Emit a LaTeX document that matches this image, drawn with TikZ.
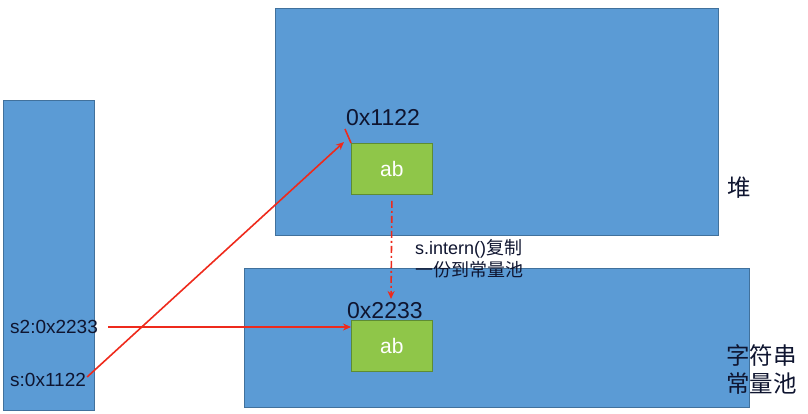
\documentclass[tikz,border=0pt]{standalone}
\usepackage{fontspec}
\setmainfont{Liberation Sans}
\newfontfamily\cjk{Noto Sans CJK SC}
\usetikzlibrary{arrows.meta}
\definecolor{boxblue}{HTML}{5B9BD5}
\definecolor{boxedge}{HTML}{41719C}
\definecolor{abgreen}{HTML}{8FC649}
\definecolor{abedge}{HTML}{5E8C33}
\definecolor{txt}{HTML}{0F1530}
\definecolor{arrred}{HTML}{EE2A1C}
\tikzset{
  area/.style={draw=boxedge, fill=boxblue, line width=0.8pt, inner sep=0pt, minimum width=#1},
  abbox/.style={draw=abedge, fill=abgreen, line width=0.8pt, minimum width=81pt, minimum height=51pt, inner sep=0pt, text=white, font=\fontsize{21}{24}\selectfont},
  lbl/.style={text=txt, inner sep=0pt, font=\fontsize{19}{22}\selectfont},
  addr/.style={text=txt, inner sep=0pt, font=\fontsize{23}{26}\selectfont},
  cjklbl/.style={text=txt, inner sep=0pt, align=left, font=\cjk\fontsize{23.5}{28}\selectfont},
  redarr/.style={draw=arrred, line width=1.6pt, -{Stealth[length=8pt,width=7pt]}},
}
\begin{document}
\begin{tikzpicture}[x=1pt,y=-1pt]
\useasboundingbox (0,0) rectangle (808,414);
% boxes
\node[area=91pt, minimum height=310pt, anchor=north west] (stack) at (3,100) {};
\node[area=443pt, minimum height=227pt, anchor=north west] (heap) at (275,8) {};
\node[area=505pt, minimum height=139pt, anchor=north west] (pool) at (244,268) {};
\node[abbox, anchor=north west] (abT) at (351,143) {ab};
\node[abbox, anchor=north west] (abB) at (351,320) {ab};
% labels
\node[addr, anchor=west] (a1) at (346,118) {0x1122};
\node[addr, anchor=west] (a2) at (347,311) {0x2233};
\node[lbl, anchor=west] (s2) at (10,327) {s2:0x2233};
\node[lbl, anchor=west] (s1) at (10,380) {s:0x1122};
\node[cjklbl, anchor=west] (heaplbl) at (727,188) {堆};
\node[cjklbl, anchor=north west] (poollbl) at (726,344) {字符串\\常量池};
\node[text=txt, inner sep=0pt, align=left, anchor=north west, font=\fontsize{18}{22}\selectfont] (note) at (415,239) {s.intern()\cjk 复制\\\cjk 一份到常量池};
% connectors
\coordinate (p1) at (344,142);
\coordinate (p2) at (391,299);
\draw[redarr] (s1.east) ++(1,-3) -- (p1);
\draw[redarr] (s2.east) ++(10,0) -- (s2.east -| abB.west);
\draw[draw=arrred, line width=1.6pt] (345,129) -- (abT.north west);
\draw[redarr, dash pattern=on 7pt off 3pt on 2pt off 3pt] (abT.south) ++(0,6) -- (p2);
\end{tikzpicture}
\end{document}
